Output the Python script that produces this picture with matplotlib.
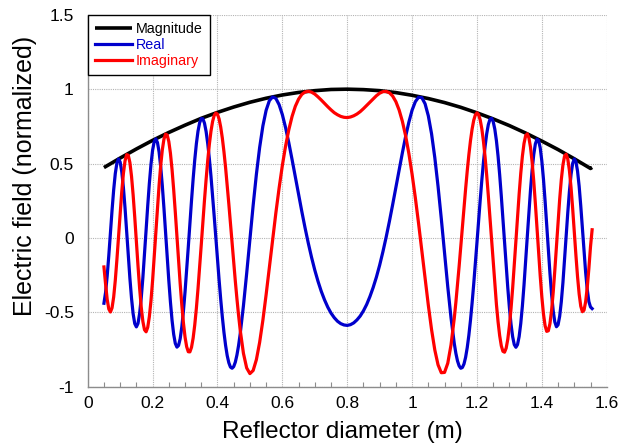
import numpy as np
import matplotlib
matplotlib.use("Agg")
import matplotlib.pyplot as plt

plt.rcParams['font.family'] = ['Liberation Sans', 'DejaVu Sans']

# Sampling positions along the reflector (m): finer where the field oscillates fast
x_left = np.linspace(0.05, 0.465, 84)
x_mid = np.linspace(0.47, 1.13, 67)
x_right = np.linspace(1.135, 1.555, 85)
x_field = np.concatenate([x_left, x_mid, x_right])

# Magnitude envelope
x_mag = [0.05, 0.10, 0.15, 0.20, 0.25, 0.30, 0.35, 0.40, 0.45, 0.50, 0.55, 0.60,
         0.65, 0.70, 0.75, 0.80, 0.85, 0.90, 0.95, 1.00, 1.05, 1.10, 1.15, 1.20,
         1.25, 1.30, 1.35, 1.40, 1.45, 1.50, 1.55, 1.555]
magnitude = [0.473, 0.537, 0.598, 0.656, 0.709, 0.758, 0.804, 0.844, 0.880, 0.912,
             0.939, 0.961, 0.978, 0.990, 0.998, 1.000, 0.997, 0.990, 0.977, 0.959,
             0.937, 0.910, 0.878, 0.841, 0.800, 0.755, 0.705, 0.651, 0.594, 0.532,
             0.467, 0.474]

# Real part
real_left = [-0.439, -0.367, -0.256, -0.118, 0.034, 0.186, 0.323, 0.433, 0.504, 0.531,
             0.510, 0.444, 0.339, 0.202, 0.046, -0.116, -0.271, -0.405, -0.510, -0.576,
             -0.598, -0.575, -0.508, -0.403, -0.268, -0.112, 0.054, 0.217, 0.367, 0.494,
             0.590, 0.648, 0.666, 0.641, 0.578, 0.478, 0.350, 0.200, 0.038, -0.128,
             -0.287, -0.431, -0.554, -0.648, -0.709, -0.734, -0.723, -0.678, -0.599, -0.493,
             -0.363, -0.217, -0.062, 0.097, 0.252, 0.397, 0.526, 0.634, 0.718, 0.774,
             0.802, 0.801, 0.771, 0.715, 0.634, 0.532, 0.414, 0.283, 0.143, -0.001,
             -0.144, -0.282, -0.413, -0.531, -0.635, -0.722, -0.791, -0.839, -0.868, -0.876,
             -0.865, -0.835, -0.787, -0.724]
real_mid = [-0.646, -0.457, -0.239, -0.008, 0.219, 0.428, 0.608, 0.753, 0.858, 0.923,
            0.948, 0.938, 0.896, 0.829, 0.741, 0.639, 0.527, 0.410, 0.293, 0.178,
            0.068, -0.035, -0.130, -0.216, -0.292, -0.359, -0.416, -0.465, -0.505, -0.536,
            -0.560, -0.576, -0.585, -0.588, -0.583, -0.571, -0.551, -0.525, -0.490, -0.447,
            -0.394, -0.333, -0.263, -0.183, -0.093, 0.005, 0.111, 0.223, 0.339, 0.457,
            0.572, 0.681, 0.778, 0.859, 0.916, 0.946, 0.943, 0.902, 0.821, 0.700,
            0.540, 0.347, 0.130, -0.101, -0.329, -0.537, -0.709]
real_right = [-0.776, -0.827, -0.860, -0.876, -0.871, -0.847, -0.802, -0.737, -0.654, -0.553,
              -0.437, -0.309, -0.172, -0.030, 0.114, 0.255, 0.389, 0.510, 0.615, 0.700,
              0.762, 0.797, 0.804, 0.782, 0.731, 0.653, 0.550, 0.424, 0.282, 0.129,
              -0.030, -0.187, -0.335, -0.469, -0.580, -0.664, -0.717, -0.735, -0.717, -0.663,
              -0.575, -0.458, -0.317, -0.160, 0.005, 0.168, 0.321, 0.455, 0.560, 0.632,
              0.664, 0.655, 0.605, 0.516, 0.395, 0.249, 0.087, -0.079, -0.238, -0.378,
              -0.490, -0.565, -0.597, -0.584, -0.526, -0.429, -0.300, -0.148, 0.014, 0.172,
              0.313, 0.426, 0.501, 0.531, 0.513, 0.450, 0.348, 0.215, 0.065, -0.089,
              -0.231, -0.347, -0.428, -0.464, -0.475]

# Imaginary part
imag_left = [-0.195, -0.309, -0.413, -0.478, -0.498, -0.470, -0.397, -0.285, -0.145, 0.010,
             0.168, 0.313, 0.433, 0.518, 0.560, 0.556, 0.507, 0.415, 0.289, 0.139,
             -0.024, -0.187, -0.338, -0.466, -0.561, -0.617, -0.631, -0.601, -0.529, -0.422,
             -0.286, -0.130, 0.036, 0.200, 0.354, 0.487, 0.593, 0.664, 0.698, 0.692,
             0.648, 0.569, 0.459, 0.324, 0.173, 0.011, -0.152, -0.307, -0.449, -0.570,
             -0.666, -0.731, -0.765, -0.766, -0.735, -0.673, -0.584, -0.472, -0.341, -0.197,
             -0.047, 0.106, 0.255, 0.394, 0.521, 0.630, 0.718, 0.783, 0.824, 0.840,
             0.832, 0.800, 0.745, 0.671, 0.579, 0.473, 0.355, 0.229, 0.098, -0.034,
             -0.164, -0.290, -0.409, -0.519]
imag_mid = [-0.618, -0.775, -0.874, -0.912, -0.891, -0.818, -0.702, -0.553, -0.381, -0.198,
            -0.012, 0.168, 0.335, 0.487, 0.618, 0.728, 0.817, 0.885, 0.933, 0.965,
            0.981, 0.986, 0.980, 0.967, 0.948, 0.927, 0.904, 0.882, 0.861, 0.842,
            0.828, 0.817, 0.811, 0.809, 0.813, 0.821, 0.833, 0.849, 0.869, 0.891,
            0.913, 0.936, 0.956, 0.973, 0.983, 0.985, 0.976, 0.954, 0.916, 0.860,
            0.784, 0.687, 0.568, 0.428, 0.270, 0.097, -0.086, -0.272, -0.452, -0.616,
            -0.753, -0.853, -0.906, -0.904, -0.842, -0.719, -0.540]
imag_right = [-0.432, -0.315, -0.190, -0.060, 0.072, 0.203, 0.330, 0.450, 0.559, 0.654,
              0.732, 0.791, 0.827, 0.841, 0.829, 0.793, 0.733, 0.649, 0.544, 0.421,
              0.284, 0.136, -0.016, -0.168, -0.313, -0.447, -0.563, -0.657, -0.725, -0.762,
              -0.768, -0.741, -0.681, -0.591, -0.475, -0.337, -0.183, -0.022, 0.141, 0.295,
              0.434, 0.549, 0.635, 0.687, 0.700, 0.674, 0.610, 0.511, 0.383, 0.232,
              0.069, -0.097, -0.256, -0.397, -0.511, -0.590, -0.628, -0.624, -0.576, -0.488,
              -0.366, -0.218, -0.057, 0.107, 0.261, 0.392, 0.491, 0.550, 0.563, 0.530,
              0.453, 0.339, 0.198, 0.042, -0.115, -0.259, -0.377, -0.459, -0.496, -0.486,
              -0.429, -0.332, -0.205, -0.059, 0.055]

real = real_left + real_mid + real_right
imag = imag_left + imag_mid + imag_right
assert len(real) == len(x_field) == len(imag)

x_ticks = [0, 0.2, 0.4, 0.6, 0.8, 1.0, 1.2, 1.4, 1.6]
x_tick_labels = ['0', '0.2', '0.4', '0.6', '0.8', '1', '1.2', '1.4', '1.6']
y_ticks = [-1, -0.5, 0, 0.5, 1, 1.5]
y_tick_labels = ['-1', '-0.5', '0', '0.5', '1', '1.5']

fig = plt.figure(figsize=(6.32, 4.47), dpi=100)
ax = fig.add_axes([0.1388, 0.1349, 0.8212, 0.832])

ax.plot(x_mag, magnitude, color='black', lw=2.6, label='Magnitude', solid_capstyle='butt', zorder=3)
ax.plot(x_field, real, color='#0000CC', lw=2.3, label='Real', zorder=4)
ax.plot(x_field, imag, color='#FF0000', lw=2.3, label='Imaginary', zorder=5)

ax.set_xlim(0, 1.6)
ax.set_ylim(-1, 1.5)
ax.set_xticks(x_ticks)
ax.set_xticklabels(x_tick_labels)
ax.set_yticks(y_ticks)
ax.set_yticklabels(y_tick_labels)
ax.set_xticks(np.arange(0.05, 1.6, 0.05), minor=True)

ax.grid(True, which='major', color='#b4b4b4', linestyle=(0, (1, 1)), linewidth=0.8)
ax.set_axisbelow(True)

for side in ('top', 'right'):
    ax.spines[side].set_visible(False)
for side in ('left', 'bottom'):
    ax.spines[side].set_color('#8c8c8c')
    ax.spines[side].set_linewidth(1.0)

ax.tick_params(axis='x', which='major', direction='in', length=0, labelsize=12.5, pad=7, colors='black')
ax.tick_params(axis='x', which='minor', direction='in', length=3.5, width=0.8, color='#8c8c8c')
ax.tick_params(axis='y', which='major', direction='in', length=0, labelsize=12.5, pad=10)

ax.set_xlabel('Reflector diameter (m)', fontsize=17.5)
ax.set_ylabel('Electric field (normalized)', fontsize=18)
ax.xaxis.set_label_coords(0.491, -0.092)
ax.yaxis.set_label_coords(-0.098, 0.566)

leg = ax.legend(loc='upper left', bbox_to_anchor=(0, 1), borderaxespad=0,
                fancybox=False, edgecolor='black', framealpha=1, fontsize=10.3,
                handlelength=2.6, handletextpad=0.25, labelspacing=0.15,
                borderpad=0.5)
leg.get_frame().set_linewidth(1.0)
for txt, col in zip(leg.get_texts(), ['black', '#0000CC', '#FF0000']):
    txt.set_color(col)

fig.savefig('out.png', dpi=100, facecolor='white')
